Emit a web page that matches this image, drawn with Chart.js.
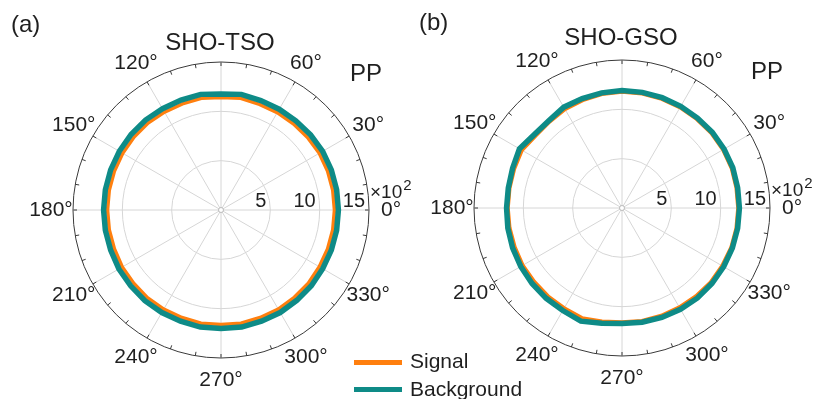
<!DOCTYPE html>
<html><head><meta charset="utf-8">
<script src="https://cdn.jsdelivr.net/npm/chart.js@4.4.1/dist/chart.umd.min.js"></script>
<style>
html,body{margin:0;padding:0;background:#fff;}
#wrap{position:relative;width:816px;height:399px;overflow:hidden;font-family:"Liberation Sans",Arial,sans-serif;}
#ca{position:absolute;left:0;top:0;width:430px;height:399px;}
#cb{position:absolute;left:408px;top:0;width:408px;height:399px;}
.leg{position:absolute;left:354px;width:48px;height:5px;}
.legt{position:absolute;left:410px;font-size:21px;color:#1f1f1f;line-height:1;white-space:nowrap;}
</style></head>
<body><div id="wrap">
<canvas id="ca" width="430" height="399"></canvas>
<canvas id="cb" width="408" height="399"></canvas>
<div class="leg" style="top:360px;background:#FF7F0E"></div>
<div class="legt" style="top:350px">Signal</div>
<div class="leg" style="top:387px;background:#0E8B87"></div>
<div class="legt" style="top:378px">Background</div>
</div>
<script>
// angles in degrees (theta), 10 degree steps
const angles = [0,10,20,30,40,50,60,70,80,90,100,110,120,130,140,150,160,170,
                180,190,200,210,220,230,240,250,260,270,280,290,300,310,320,330,340,350];
// radial ticks (x10^2)
const radialTicks = [5, 10, 15];
// panel (a) SHO-TSO
const signalA = [11.5,11.5,11.5,11.5,11.45,11.4,11.4,11.4,11.5,11.4,11.5,11.45,
                 11.45,11.5,11.5,11.5,11.5,11.5,11.5,11.5,11.5,11.55,11.55,11.6,
                 11.6,11.6,11.65,11.6,11.65,11.6,11.6,11.55,11.55,11.5,11.5,11.5];
const backgroundA = [11.9,11.9,11.9,11.9,11.85,11.8,11.8,11.8,11.9,11.75,11.9,11.85,
                     11.85,11.9,11.9,11.9,11.9,11.9,11.9,11.9,11.9,11.95,11.95,12.0,
                     12.0,12.0,12.05,12.0,12.05,12.0,12.0,11.95,11.95,11.9,11.9,11.9];
// panel (b) SHO-GSO
const signalB = [11.75,11.75,11.8,11.8,11.8,11.75,11.75,11.75,11.75,11.75,11.7,11.6,
                 11.55,11.4,11.4,11.7,11.6,11.55,11.55,11.55,11.55,11.6,11.6,11.65,
                 11.7,11.85,11.65,11.55,11.6,11.6,11.6,11.65,11.7,11.7,11.75,11.75];
const backgroundB = [11.9,11.9,11.95,11.95,11.95,11.9,11.9,11.9,11.9,11.9,11.85,11.8,
                     11.8,11.55,11.6,12.0,11.8,11.7,11.7,11.75,11.8,11.85,11.9,11.95,
                     12.0,12.2,11.85,11.7,11.75,11.8,11.85,11.9,11.9,11.9,11.9,11.9];

const ORANGE = '#FF7F0E', TEAL = '#0E8B87', TXT = '#1f1f1f';
const FONT = '"Liberation Sans", Arial, sans-serif';

const extras = {
  id: 'extras',
  beforeDatasetsDraw(chart, args, o) {
    const s = chart.scales.r, ctx = chart.ctx, n = chart.data.labels.length;
    ctx.save();
    ctx.strokeStyle = '#3a3a3a'; ctx.lineWidth = 1;
    for (let i = 0; i < n; i++) {
      const p1 = s.getPointPosition(i, s.drawingArea);
      const p2 = s.getPointPosition(i, s.drawingArea - 4);
      ctx.beginPath(); ctx.moveTo(p1.x, p1.y); ctx.lineTo(p2.x, p2.y); ctx.stroke();
    }
    ctx.fillStyle = '#fff'; ctx.strokeStyle = '#bbb';
    ctx.beginPath(); ctx.arc(s.xCenter, s.yCenter, 2.5, 0, Math.PI * 2); ctx.fill(); ctx.stroke();
    ctx.restore();
  },
  afterDraw(chart, args, o) {
    const s = chart.scales.r, ctx = chart.ctx, n = chart.data.labels.length;
    ctx.save();
    ctx.fillStyle = TXT;
    // angle labels
    ctx.font = '21px ' + FONT; ctx.textAlign = 'center'; ctx.textBaseline = 'middle';
    for (let i = 0; i < n; i++) {
      const deg = Number(chart.data.labels[i]);
      if (deg % 30 !== 0 || deg === 90) continue;
      const p = s.getPointPosition(i, s.drawingArea + 22);
      ctx.fillText(deg + '°', p.x, p.y);
    }
    // radial tick labels
    ctx.font = '20px ' + FONT; ctx.textAlign = 'right'; ctx.textBaseline = 'alphabetic';
    s.ticks.forEach(t => {
      if (t.value <= 0) return;
      const p = s.getPointPositionForValue(0, t.value);
      ctx.fillText(String(t.value), p.x - 4, p.y - 3);
    });
    // exponent
    const e = s.getPointPositionForValue(0, s.max);
    ctx.textAlign = 'left';
    ctx.font = '19px ' + FONT;
    ctx.fillText('×10', e.x + 1, e.y - 12);
    const w = ctx.measureText('×10').width;
    ctx.font = '15px ' + FONT;
    ctx.fillText('2', e.x + 2 + w, e.y - 20);
    // title, PP, panel tag
    ctx.font = '24px ' + FONT; ctx.textAlign = 'center'; ctx.textBaseline = 'middle';
    ctx.fillText(o.title, s.xCenter - 1, s.yCenter + o.titleDy);
    ctx.fillText('PP', s.xCenter + 145, s.yCenter - 136);
    ctx.textAlign = 'left';
    ctx.fillText(o.tag, 11, o.tagY);
    ctx.restore();
  }
};

function makeChart(id, sig, bg, o) {
  const order = angles.map((a, i) => (angles.length - i) % angles.length);
  return new Chart(document.getElementById(id), {
    type: 'radar',
    data: {
      labels: order.map(k => angles[k]),
      datasets: [
        {label: 'Background', data: order.map(k => bg[k]), borderColor: TEAL, borderWidth: 5.5,
         pointRadius: 0, fill: false, tension: 0, borderJoinStyle: 'miter'},
        {label: 'Signal', data: order.map(k => sig[k]), borderColor: ORANGE, borderWidth: 3.5,
         pointRadius: 0, fill: false, tension: 0, borderJoinStyle: 'miter'}
      ]
    },
    options: {
      responsive: false, animation: false, events: [],
      layout: {padding: o.pad},
      plugins: {legend: {display: false}, tooltip: {enabled: false}, title: {display: false}, extras: o},
      scales: {
        r: {
          min: 0, max: radialTicks[radialTicks.length - 1], startAngle: 90,
          ticks: {display: false, stepSize: radialTicks[0]},
          pointLabels: {display: false},
          grid: {circular: true, lineWidth: 1,
                 color: c => (c.tick && c.tick.value === radialTicks[radialTicks.length - 1]) ? '#3a3a3a' : '#d6d6d6'},
          angleLines: {color: '#d6d6d6', lineWidth: c => (Number(c.label) % 30 === 0 ? 1 : 0)}
        }
      }
    },
    plugins: [extras]
  });
}

makeChart('ca', signalA, backgroundA,
  {pad: {left: 73, top: 62, right: 61, bottom: 41}, title: 'SHO-TSO', titleDy: -167, tag: '(a)', tagY: 25});
makeChart('cb', signalB, backgroundB,
  {pad: {left: 66, top: 60, right: 46, bottom: 43}, title: 'SHO-GSO', titleDy: -170, tag: '(b)', tagY: 23});
</script>
</body></html>
